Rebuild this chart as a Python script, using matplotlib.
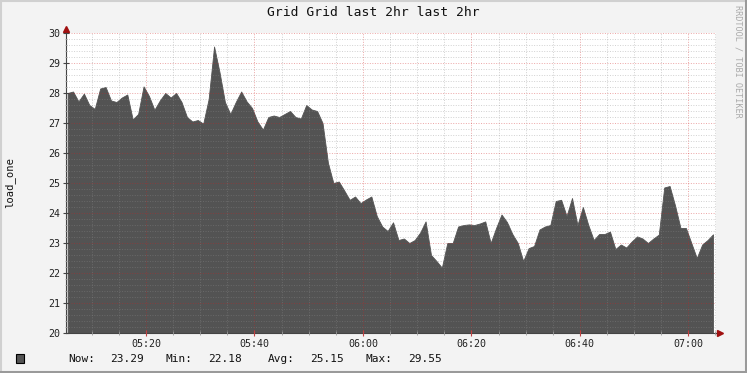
import numpy as np
import matplotlib.pyplot as plt
from matplotlib.ticker import MultipleLocator, FixedLocator
from matplotlib.lines import Line2D
from matplotlib.patches import Rectangle

# data: one sample per minute, starting 05:05:15 (minutes after 05:00)
start_min = 5.25
load_one = [
    28.0, 28.05, 27.72, 27.98, 27.6, 27.47, 28.15, 28.2, 27.75, 27.7,
    27.85, 27.95, 27.12, 27.3, 28.22, 27.9, 27.44, 27.75, 28.0, 27.85,
    28.0, 27.7, 27.2, 27.05, 27.1, 26.98, 27.8, 29.55, 28.7, 27.7,
    27.3, 27.7, 28.05, 27.72, 27.5, 27.05, 26.78, 27.2, 27.25, 27.2,
    27.3, 27.4, 27.2, 27.15, 27.6, 27.45, 27.4, 27.0, 25.67, 25.0,
    25.05, 24.75, 24.44, 24.55, 24.33, 24.45, 24.55, 23.9, 23.55, 23.4,
    23.69, 23.1, 23.15, 23.0, 23.1, 23.35, 23.72, 22.6, 22.4, 22.18,
    23.0, 23.0, 23.55, 23.6, 23.62, 23.6, 23.65, 23.72, 23.0, 23.5,
    23.95, 23.7, 23.3, 23.0, 22.4, 22.83, 22.9, 23.45, 23.55, 23.6,
    24.4, 24.44, 23.9, 24.5, 23.6, 24.2, 23.6, 23.1, 23.3, 23.3,
    23.38, 22.8, 22.95, 22.85, 23.05, 23.22, 23.15, 23.0, 23.15, 23.28,
    24.85, 24.9, 24.25, 23.5, 23.5, 23.0, 22.5, 22.95, 23.1, 23.29,
]
tick_minutes = [20, 40, 60, 80, 100, 120]
tick_labels = ['05:20', '05:40', '06:00', '06:20', '06:40', '07:00']
stat_names = ['Now:', 'Min:', 'Avg:', 'Max:']
stat_values = [23.29, 22.18, 25.15, 29.55]

plt.rcParams['font.family'] = 'DejaVu Sans Mono'

W, H = 747, 373
AREA = '#535353'
fig = plt.figure(figsize=(W / 100, H / 100), dpi=100)
fig.patch.set_facecolor('#f3f3f3')
ax = fig.add_axes([66 / W, 1 - 333 / H, 650 / W, 300 / H])
ax.set_facecolor('white')

t = start_min + np.arange(len(load_one)) + 0.3
ax.fill_between(t, 20, load_one, color=AREA, lw=0.6, zorder=1)
ax.set_xlim(start_min, 125.1)
ax.set_ylim(20, 30)

# grid
ax.xaxis.set_major_locator(FixedLocator(tick_minutes))
ax.xaxis.set_minor_locator(MultipleLocator(5))
ax.set_xticklabels(tick_labels)
ax.yaxis.set_major_locator(MultipleLocator(1))
ax.yaxis.set_minor_locator(MultipleLocator(0.2))
ax.set_axisbelow(False)
ax.grid(which='minor', color='#8c8c8c', alpha=0.4, linestyle=(0, (1, 1.6)), linewidth=0.7)
ax.grid(which='major', color='#d02020', alpha=0.4, linestyle=(0, (1, 1.6)), linewidth=0.7)

ax.tick_params(axis='x', which='major', direction='inout', length=4, color='#c04040',
               labelsize=7.2, pad=2, labelcolor='#222222')
ax.tick_params(axis='x', which='minor', direction='inout', length=3, color='#999999')
ax.tick_params(axis='y', which='major', direction='inout', length=4, color='#444444',
               labelsize=7.2, pad=2, labelcolor='#222222')
ax.tick_params(axis='y', which='minor', direction='inout', length=2, color='#999999')

for s in ['top', 'right']:
    ax.spines[s].set_visible(False)
for s in ['left', 'bottom']:
    ax.spines[s].set_color('#444444')
    ax.spines[s].set_linewidth(0.8)

# axis arrows
ax.add_line(Line2D([1, 1 + 4 / 650], [0, 0], transform=ax.transAxes, color='#444444',
                   lw=0.8, clip_on=False))
ax.add_line(Line2D([0, 0], [1, 1 + 4 / 300], transform=ax.transAxes, color='#444444',
                   lw=0.8, clip_on=False))
ax.plot([1 + 4 / 650], [0], marker='>', ms=4, color='#a01010', transform=ax.transAxes, clip_on=False)
ax.plot([0], [1 + 4 / 300], marker='^', ms=4, color='#a01010', transform=ax.transAxes, clip_on=False)

# texts
fig.text(0.5, 1 - 13 / H, 'Grid Grid last 2hr last 2hr', ha='center', va='center',
         fontsize=9.4, color='#111111')
fig.text(10 / W, 1 - 183 / H, 'load_one', rotation=90, ha='center', va='center',
         fontsize=7.6, color='#111111')
fig.text(738 / W, 1 - 5 / H, 'RRDTOOL / TOBI OETIKER', rotation=270, ha='center', va='top',
         fontsize=6.1, color='#aaaaaa')

# legend line
fig.add_artist(Rectangle((16 / W, 1 - 363 / H), 8 / W, 9 / H, transform=fig.transFigure,
                         facecolor=AREA, edgecolor='black', lw=0.8))
name_x = [68, 166, 268, 366]
for nx, name, val in zip(name_x, stat_names, stat_values):
    fig.text(nx / W, 1 - 359 / H, name, ha='left', va='center', fontsize=8, color='#111111')
    fig.text((nx + 42) / W, 1 - 359 / H, f'{val:.2f}', ha='left', va='center', fontsize=8,
             color='#111111')

# image border
fig.add_artist(Line2D([0, 1], [1 - 1 / H, 1 - 1 / H], transform=fig.transFigure, color='#d0d0d0', lw=1.5))
fig.add_artist(Line2D([1 / W, 1 / W], [0, 1], transform=fig.transFigure, color='#d0d0d0', lw=1.5))
fig.add_artist(Line2D([1 - 1.5 / W, 1 - 1.5 / W], [0, 1], transform=fig.transFigure, color='#9a9a9a', lw=2.2))
fig.add_artist(Line2D([0, 1], [1.5 / H, 1.5 / H], transform=fig.transFigure, color='#9a9a9a', lw=2.2))

fig.savefig('out.png', dpi=100, facecolor=fig.get_facecolor())
